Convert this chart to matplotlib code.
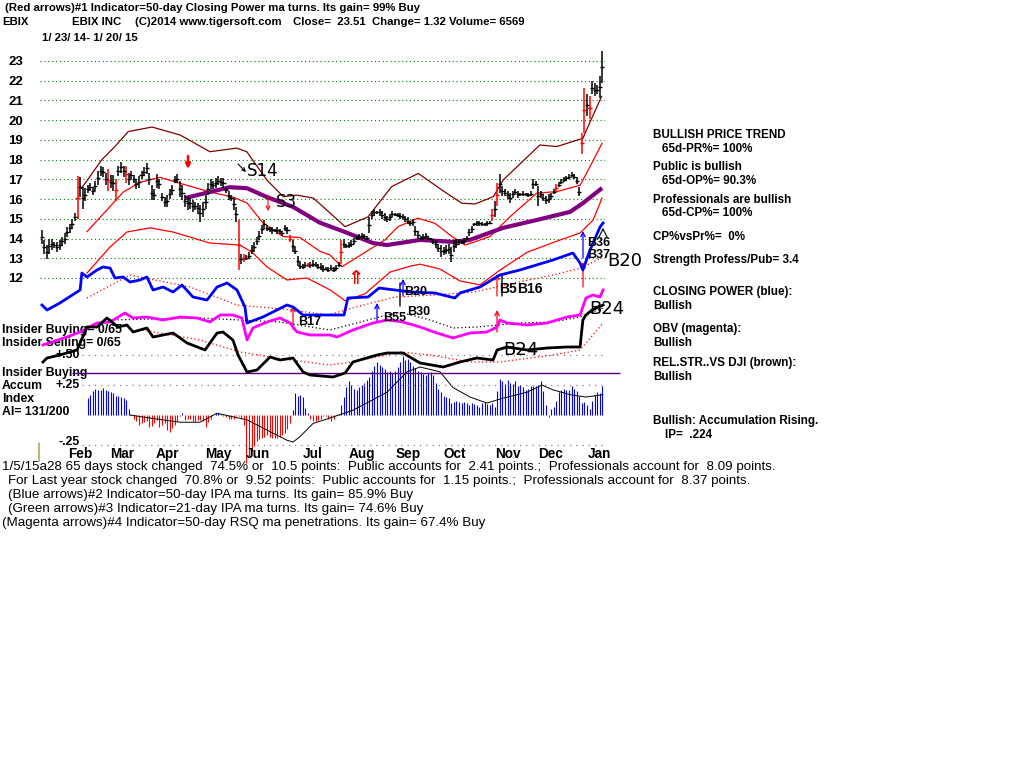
import matplotlib
matplotlib.use("Agg")
import matplotlib.pyplot as plt

W, H = 1024, 768
SANS = ["Liberation Sans", "DejaVu Sans"]
WIDE = ["DejaVu Sans"]

# ── daily bars, 1/23/14 - 1/20/15 ────────────────────────────────────
highs = [14.45, 13.9, 13.65, 14.0, 14.0, 13.8, 13.8, 13.9, 14.1, 14.3,
         14.6, 14.75, 15.0, 15.3, 17.15, 17.1, 16.6, 16.55, 16.7, 16.8,
         16.6, 16.9, 17.4, 17.7, 17.6, 17.3, 17.5, 17.2, 17.2, 17.0,
         17.7, 17.9, 17.7, 17.7, 17.3, 17.4, 17.2, 17.0, 17.15, 17.4,
         17.6, 17.85, 17.3, 16.7, 16.5, 17.25, 17.0, 16.3, 16.1, 16.2,
         16.5, 16.7, 17.15, 17.25,
         16.9, 16.7, 16.2, 16.1, 16.05, 15.95, 15.85, 15.8, 15.7, 15.85,
         16.2, 16.8, 17.0, 16.9, 17.05, 17.15, 17.05, 17.05, 16.6, 16.4,
         16.2, 16.05, 15.6, 14.95, 13.2, 13.2, 13.15, 13.3, 13.65, 13.8,
         14.1, 14.4, 14.7, 14.95, 14.7, 14.6, 14.6, 14.5, 14.6, 14.5,
         14.4, 14.7, 14.6, 14.2, 13.9, 13.55, 13.1, 12.8, 12.7, 12.8,
         12.75, 12.8, 12.9, 12.8, 12.7, 12.75,
         12.64, 12.55, 12.55, 12.64, 12.55, 12.64, 12.8, 13.9, 13.98, 13.7,
         13.8, 13.9, 14.05, 14.15, 14.25, 14.3, 14.25, 14.15, 15.07, 15.4,
         15.5, 15.4, 15.5, 15.4, 15.3, 15.15, 15.24, 15.4, 15.3, 15.3,
         15.3, 15.24, 15.15, 15.07, 14.9, 14.99, 14.65, 14.4, 14.15, 14.25,
         14.3, 14.15, 14.05, 13.98, 13.9, 13.7, 13.65, 13.55, 13.65, 13.7,
         13.55, 13.9, 13.98, 13.98, 13.9, 14.05, 14.15, 14.5,
         14.64, 14.8, 14.9, 14.9, 14.85, 14.8, 14.9, 14.9, 15.5, 15.9,
         16.8, 17.25, 16.67, 16.5, 16.4, 16.33, 16.4, 16.5, 16.4, 16.33,
         16.4, 16.33, 16.33, 16.4, 17.0, 16.9, 16.67, 16.4, 16.24, 16.16,
         16.24, 16.33, 16.5, 16.75, 16.84, 17.0, 17.1, 17.17, 17.25, 17.37,
         17.25, 17.1, 16.6, 19.37, 21.65, 21.3, 21.2, 21.98, 21.9, 21.8,
         22.24, 23.5]
lows = [13.73, 13.2, 12.97, 13.2, 13.4, 13.5, 13.3, 13.4, 13.6, 13.7,
        14.1, 14.3, 14.5, 14.9, 15.0, 16.1, 15.5, 15.9, 16.3, 16.4,
        16.2, 16.4, 16.7, 17.15, 17.1, 16.7, 16.4, 16.55, 16.4, 15.9,
        17.15, 17.3, 17.1, 16.8, 16.7, 17.0, 16.8, 16.5, 16.55, 17.0,
        17.15, 17.25, 16.7, 15.95, 15.95, 16.55, 16.5, 15.9, 15.6, 15.6,
        16.0, 16.2, 16.8, 16.8,
        16.1, 15.95, 15.6, 15.45, 15.5, 15.35, 15.45, 15.25, 14.85, 15.1,
        15.5, 16.2, 16.5, 16.5, 16.55, 16.7, 16.65, 16.55, 16.3, 15.95,
        15.9, 15.45, 14.85, 12.4, 12.7, 12.8, 12.9, 12.95, 13.2, 13.3,
        13.65, 13.9, 14.25, 14.5, 14.4, 14.35, 14.25, 14.35, 14.25, 14.25,
        14.15, 14.4, 14.25, 13.8, 13.3, 13.2, 12.6, 12.45, 12.45, 12.55,
        12.55, 12.5, 12.55, 12.55, 12.45, 12.4,
        12.3, 12.4, 12.3, 12.4, 12.3, 12.4, 12.55, 12.7, 13.5, 13.5,
        13.5, 13.55, 13.7, 13.9, 13.9, 13.98, 13.98, 13.9, 14.3, 14.99,
        15.15, 15.24, 15.15, 14.99, 14.9, 14.82, 14.9, 15.07, 15.15, 15.07,
        14.99, 14.99, 14.82, 14.73, 14.65, 14.65, 14.15, 13.98, 13.9, 13.9,
        13.98, 13.9, 13.9, 13.7, 13.5, 13.3, 13.05, 13.15, 13.2, 13.2,
        12.8, 13.3, 13.5, 13.65, 13.7, 13.7, 13.9, 14.15,
        14.3, 14.64, 14.64, 14.64, 14.64, 14.64, 14.64, 14.72, 14.9, 15.1,
        15.65, 16.3, 16.16, 16.16, 16.0, 15.8, 16.07, 16.24, 16.07, 16.16,
        16.16, 16.16, 16.12, 16.16, 16.5, 16.67, 15.65, 16.07, 15.9, 15.74,
        15.8, 15.99, 16.24, 16.4, 16.6, 16.75, 16.84, 16.92, 17.0, 17.1,
        17.0, 16.75, 16.16, 18.27, 19.37, 20.2, 20.05, 21.3, 21.2, 21.3,
        21.14, 21.9]
red_bars = [14, 26, 29, 33, 77, 79, 97, 104, 117, 176, 178, 201, 211, 212, 214]

# ── price-panel bands, turning points (bar, price) ───────────────────
band2_x = [15.6, 23.4, 28.6, 33.8, 43.1, 54.0, 65.7, 76.2, 80.1, 87.9, 94.4, 99.6,
           106.1, 112.6, 118.5, 127.5, 136.7, 147.1, 156.3, 164.1, 169.3, 176.4,
           180.3, 194.6, 201.2, 211.4, 214.2, 218.7]
band2_y = [16.55, 17.98, 18.66, 19.42, 19.65, 19.25, 18.4, 18.58, 18.4, 16.97, 16.12,
           16.2, 16.05, 15.3, 14.6, 15.1, 16.63, 17.3, 16.46, 15.79, 15.75, 16.12,
           16.97, 18.74, 18.66, 19.08, 19.9, 21.2]
upper_x = [17.7, 25.5, 31.8, 38.4, 46.2, 54.0, 65.7, 74.7, 80.2, 86.4, 94.3, 100.9,
           108.7, 112.6, 117.3, 123.6, 134.1, 139.2, 147.0, 153.6, 160.3, 165.4,
           169.3, 175.1, 182.9, 193.4, 201.3, 210.3, 214.2, 218.9]
upper_y = [14.35, 15.45, 16.35, 16.85, 17.1, 16.8, 16.36, 16.1, 15.8, 14.8, 14.1,
           14.05, 13.35, 13.17, 12.57, 13.08, 13.93, 14.6, 15.03, 14.77, 14.1, 13.67,
           13.84, 14.1, 15.1, 16.3, 16.38, 16.7, 17.65, 18.83]
lower_x = [17.7, 26.7, 33.3, 42.3, 51.3, 65.7, 77.5, 82.5, 88.0, 95.8, 103.6, 112.6,
           118.5, 126.3, 136.1, 143.9, 147.8, 155.6, 163.4, 171.2, 179.0, 189.6,
           199.8, 210.3, 215.4, 218.9]
lower_y = [12.25, 13.57, 14.33, 14.54, 14.33, 13.77, 13.67, 13.27, 12.56, 11.9, 12.0,
           11.4, 10.85, 11.2, 12.3, 12.6, 12.7, 12.45, 11.85, 11.65, 12.4, 13.3, 13.8,
           14.28, 14.94, 16.05]
ma50_x = [56.0, 65.7, 73.5, 80.2, 88.0, 98.2, 108.7, 118.5, 129.4, 134.9, 147.8,
          160.6, 167.3, 180.2, 193.4, 206.4, 211.5, 218.9]
ma50_y = [16.05, 16.36, 16.6, 16.55, 16.1, 15.6, 14.8, 14.33, 13.77, 13.67, 13.93,
          13.83, 13.93, 14.54, 14.94, 15.35, 15.8, 16.56]

# ── Closing Power (blue) and its ma, arbitrary units ─────────────────
cp_x = [0.1, 2.1, 7.1, 15.0, 15.7, 17.7, 21.6, 23.9, 26.7, 28.6, 31.8, 34.5, 38.4,
        41.1, 43.5, 47.4, 51.3, 54.8, 59.1, 64.6, 68.5, 72.4, 76.3, 79.4, 80.2, 86.4,
        95.8, 98.2, 102.1, 112.6, 118.1, 119.6, 127.5, 131.8, 138.0, 144.3, 153.6,
        161.4, 163.4, 171.2, 179.0, 186.8, 199.7, 207.5, 210.3, 211.4, 214.2, 218.1,
        219.3]
cp_y = [25, 20, 27, 40, 57, 53, 60, 63, 62, 52, 53, 48, 50, 53, 40, 43, 38, 45, 33,
        30, 43, 47, 40, 23, 7, 13, 25, 23, 15, 15, 15, 32, 33, 42, 40, 38, 37, 32, 37,
        43, 55, 60, 70, 77, 67, 60, 80, 103, 107]
cp_ma_x = [17.7, 34.5, 57.9, 76.3, 97.8, 111.8, 122.8, 138.0, 153.6, 168.9, 184.5,
           199.7, 210.7, 218.5]
cp_ma_y = [32, 55, 43, 25, 20, 15, 23, 33, 35, 38, 47, 55, 62, 72]

# ── OBV (magenta) and its ma ─────────────────────────────────────────
obv_x = [0.5, 9.9, 15.0, 21.6, 26.7, 32.5, 35.7, 41.1, 47.4, 54.0, 60.7, 65.7, 69.7,
         74.7, 78.2, 80.2, 82.5, 88.0, 93.1, 97.0, 99.7, 104.8, 112.6, 115.4, 121.6,
         129.4, 134.9, 141.1, 147.8, 154.4, 160.7, 167.3, 173.9, 177.9, 179.0, 181.8,
         189.6, 197.4, 205.2, 210.3, 212.6, 215.3, 218.1, 219.3]
obv_y = [5, 13, 18, 27, 28, 37, 32, 33, 30, 33, 32, 28, 35, 35, 32, 10, 22, 28, 32,
         27, 18, 15, 15, 13, 20, 27, 30, 28, 23, 17, 12, 17, 18, 23, 30, 27, 25, 27,
         33, 35, 52, 55, 53, 60]
obv_ma_x = [26.7, 61.8, 93.1, 112.6, 134.9, 141.1, 151.7, 160.7, 170.0, 186.8, 199.7,
            210.3, 219.3]
obv_ma_y = [30, 32, 28, 20, 35, 37, 30, 22, 23, 27, 28, 33, 42]

# ── relative strength vs DJI (black) and its ma ──────────────────────
rs_x = [0.5, 2.1, 7.1, 13.8, 17.7, 21.6, 25.5, 29.8, 33.3, 35.7, 41.1, 43.5, 51.3,
        56.8, 63.8, 68.5, 70.8, 74.7, 76.7, 80.2, 84.1, 89.2, 93.1, 98.2, 102.1,
        104.8, 113.8, 118.5, 121.6, 131.0, 134.9, 141.1, 147.8, 156.8, 163.4, 170.0,
        176.3, 177.9, 181.8, 189.6, 197.4, 205.2, 210.3, 211.4, 212.6, 215.0, 219.3]
rs_y = [18, 22, 25, 30, 53, 53, 62, 53, 55, 48, 52, 43, 47, 37, 30, 47, 48, 40, 25,
        8, 10, 23, 20, 22, 8, 5, 3, 7, 18, 25, 27, 27, 17, 13, 18, 22, 20, 30, 33, 30,
        32, 33, 33, 60, 65, 70, 75]
rs_ma_x = [39.4, 61.8, 77.5, 97.0, 112.6, 121.6, 140.0, 151.7, 167.3, 179.0, 199.7,
           210.3, 219.3]
rs_ma_y = [50, 40, 28, 20, 15, 18, 28, 25, 18, 18, 25, 30, 57]

# ── Accumulation Index, one value per bar from bar 18 on ─────────────
ai_start = 18
ai = [0.14, 0.17, 0.20, 0.22, 0.21, 0.21, 0.225, 0.21, 0.20, 0.19,
      0.18, 0.16, 0.16, 0.15, 0.14, 0.125, 0.05, 0.0, -0.03, -0.05,
      -0.08, -0.07, -0.06, -0.05, -0.10, -0.09, -0.07, -0.04, -0.10, -0.08,
      -0.07, -0.125, -0.14, -0.11, -0.08, -0.05, -0.01, 0.02, -0.04, -0.03,
      -0.03, -0.05, -0.05, -0.04, -0.04, -0.05, -0.10, -0.06, -0.03, 0.0,
      0.02, 0.02, 0.01, -0.01, -0.02, -0.03, -0.03, -0.03, -0.01, -0.01,
      -0.03, -0.08, -0.40, -0.34, -0.30, -0.26, -0.22, -0.20, -0.19, -0.18,
      -0.17, -0.18, -0.19, -0.19, -0.19, -0.18, -0.17, -0.15, -0.12, -0.07,
      0.04, 0.18, 0.16, 0.17, 0.15, 0.06, 0.02, -0.03, -0.05, -0.05,
      -0.04, -0.03, -0.01, -0.01, -0.03, -0.05, -0.03, 0.0, 0.01, 0.08,
      0.15, 0.23, 0.28, 0.25, 0.22, 0.21, 0.23, 0.25, 0.27, 0.29,
      0.32, 0.37, 0.41, 0.44, 0.42, 0.40, 0.38, 0.36, 0.37, 0.35,
      0.37, 0.40, 0.44, 0.49, 0.46, 0.47, 0.44, 0.41, 0.39, 0.37,
      0.36, 0.34, 0.33, 0.35, 0.36, 0.33, 0.27, 0.22, 0.19, 0.16,
      0.15, 0.14, 0.10, 0.11, 0.12, 0.11, 0.10, 0.11, 0.10, 0.08,
      0.10, 0.09, 0.08, 0.07, 0.10, 0.11, 0.09, 0.08, 0.10, 0.07,
      0.20, 0.30, 0.28, 0.26, 0.29, 0.27, 0.26, 0.28, 0.24, 0.25,
      0.23, 0.21, 0.22, 0.24, 0.24, 0.24, 0.25, 0.28, 0.20, 0.08,
      -0.02, 0.05, 0.07, 0.12, 0.19, 0.21, 0.22, 0.21, 0.21, 0.24,
      0.22, 0.20, 0.16, 0.10, 0.11, 0.08, 0.05, 0.12, 0.17, 0.19,
      0.18, 0.24]
ai_ma_x = [34.5, 42.3, 54.0, 61.8, 68.5, 74.7, 80.2, 88.0, 95.8, 98.2, 100.9, 106.0,
           112.6, 121.6, 134.9, 142.7, 147.8, 155.6, 160.6, 167.3, 173.9, 180.2,
           189.6, 195.4, 199.7, 206.4, 212.6, 219.3]
ai_ma_y = [0.0, -0.025, -0.06, -0.06, 0.015, -0.015, -0.04, -0.125, -0.21, -0.225,
           -0.18, -0.07, -0.025, 0.04, 0.19, 0.36, 0.4, 0.36, 0.23, 0.15, 0.1, 0.14,
           0.19, 0.25, 0.21, 0.17, 0.15, 0.17]
ai_levels = [0.5, 0.25, -0.25]
insider_level = 0.35

months = ["Feb", "Mar", "Apr", "May", "Jun", "Jul", "Aug", "Sep", "Oct", "Nov",
          "Dec", "Jan"]
month_bar = [14.9, 31.4, 49.3, 68.9, 84.5, 106.0, 125.1, 143.1, 161.4, 182.1,
             198.6, 217.7]
price_ticks = list(range(12, 24))

# ── figure and stacked layers ────────────────────────────────────────
fig = plt.figure(figsize=(W / 100, H / 100), dpi=100)
fig.patch.set_facecolor("white")
RECT = [40 / W, 1 - 470 / H, 565 / W, 430 / H]
XLIM = (-0.66, 220.04)


def layer(ylim):
    a = fig.add_axes(RECT, facecolor="none")
    a.set_xlim(*XLIM)
    a.set_ylim(*ylim)
    a.axis("off")
    return a


def put(x, y, s, size=8.2, weight="bold", color="black", ha="left",
        family=SANS, z=3):
    fig.text(x / W, 1 - y / H, s, fontsize=size, fontweight=weight,
             color=color, ha=ha, va="center", family=family, zorder=z)


def arrow(x, y_from, y_to, color, lw=1.0, scale=8, style="->"):
    ax.annotate("", xy=(x, H - y_to), xycoords="figure pixels",
                xytext=(x, H - y_from), textcoords="figure pixels",
                arrowprops=dict(arrowstyle=style, color=color, lw=lw,
                                mutation_scale=scale, shrinkA=0, shrinkB=0),
                annotation_clip=False)


def tick(x0, y0, x1, y1, color="black", lw=1.0, style="-"):
    ax.annotate("", xy=(x1, H - y1), xycoords="figure pixels",
                xytext=(x0, H - y0), textcoords="figure pixels",
                arrowprops=dict(arrowstyle=style, color=color, lw=lw,
                                mutation_scale=6, shrinkA=0, shrinkB=0),
                annotation_clip=False)


# accumulation index panel (drawn first, at the back)
ax_ai = layer((-0.458, 3.125))
for i, v in enumerate(ai):
    ax_ai.vlines(ai_start + i, 0, v, color="#0000ff" if v >= 0 else "#ff0000",
                 lw=0.8)
ax_ai.plot(ai_ma_x, ai_ma_y, color="black", lw=0.7)
for lv in ai_levels:
    ax_ai.hlines(lv, 15.7, 219.3, color="#808080", lw=0.9,
                 linestyles=(0, (1, 4)))
ax_ai.hlines(insider_level, 11.8, 225.9, color="#600080", lw=1.0, clip_on=False)

# price panel
ax = fig.add_axes(RECT, facecolor="none")
ax.set_xlim(*XLIM)
ax.set_ylim(2.27, 24.06)
for s in ax.spines.values():
    s.set_visible(False)
ax.set_xticks([])
ax.set_yticks(price_ticks)
ax.set_yticklabels([str(t) for t in price_ticks], fontsize=9.5,
                   fontweight="bold", family=SANS)
for lbl in ax.get_yticklabels():
    lbl.set_horizontalalignment("left")
ax.tick_params(axis="y", length=0, pad=23)
ax.yaxis.grid(True, color="#008000", lw=0.8, linestyle=(0, (1, 2.5)))
ax.set_axisbelow(True)

ax.plot(band2_x, band2_y, color="#800000", lw=0.9)
ax.plot(upper_x, upper_y, color="#ff0000", lw=0.9)
ax.plot(lower_x, lower_y, color="#ff0000", lw=0.9)
ax.plot(ma50_x, ma50_y, color="#800080", lw=3.0, solid_capstyle="butt")

xs = list(range(len(highs)))
cols = ["#ff0000" if i in red_bars else "black" for i in xs]
mids = [(h + l) / 2 for h, l in zip(highs, lows)]
ax.vlines(xs, lows, highs, colors=cols, lw=1.1)
ax.hlines(mids, [x - 0.8 for x in xs], [x + 0.8 for x in xs], colors=cols,
          lw=1.0)

for m, b in zip(months, month_bar):
    ax.text(b, 0.037, m, transform=ax.get_xaxis_transform(), ha="center",
            va="center", fontsize=9.8, fontweight="bold", family=SANS)

# indicator lines
ax_cp = layer((-140, 290))
ax_cp.plot(cp_ma_x, cp_ma_y, color="#ff0000", lw=0.9, linestyle=(0, (1, 2)))
ax_cp.plot(cp_x, cp_y, color="#0000ff", lw=2.0)

ax_obv = layer((-120, 310))
ax_obv.plot(obv_ma_x, obv_ma_y, color="black", lw=0.9, linestyle=(0, (1, 2)))
ax_obv.plot(obv_x, obv_y, color="#ff00ff", lw=2.0)

ax_rs = layer((-90, 340))
ax_rs.plot(rs_ma_x, rs_ma_y, color="#ff0000", lw=0.9, linestyle=(0, (1, 2)))
ax_rs.plot(rs_x, rs_y, color="black", lw=2.0)

# ── signal arrows and labels ─────────────────────────────────────────
arrow(188, 156, 169, "#ff0000", lw=1.8, scale=7, style="-|>")
tick(238, 164, 246, 172, lw=0.8, style="->")
put(247, 171, "S14", size=12, weight="normal", family=WIDE)
arrow(268, 195, 211, "#ff0000", lw=0.8, scale=7)
put(276, 202, "S3", size=12, weight="normal", family=WIDE)
put(355, 279, "\u21d1", size=14, weight="bold", color="#ff0000", ha="center",
    family=WIDE)
arrow(293, 329, 306, "#ff0000", lw=0.9)
put(298, 322, "B17", size=9)
arrow(377, 322, 303, "#0000ff", lw=0.9)
put(383, 318, "B55", size=9)
tick(400, 283, 400, 306)
put(407, 312, "B30", size=9)
arrow(403, 296, 279, "#0000ff", lw=0.9)
put(404, 292, "B20", size=9)
arrow(497, 296, 274, "#ff0000", lw=0.9)
tick(502, 274, 502, 296)
put(499, 289, "B5", size=10)
put(517, 289, "B16", size=10)
arrow(497, 332, 310, "#ff0000", lw=0.9)
put(503, 350, "B24", size=13, weight="normal", family=WIDE)
arrow(583, 258, 231, "#0000ff", lw=0.9)
arrow(583, 287, 262, "#ff0000", lw=0.9)
put(587, 243, "B36", size=9)
put(587, 255, "B37", size=9)
put(607, 261, "B20", size=13, weight="normal", family=WIDE)
put(589, 309, "B24", size=13, weight="normal", family=WIDE)
tick(599, 237, 603, 229, lw=0.8)
tick(603, 229, 607, 237, lw=0.8)
tick(39, 443, 39, 461, color="#808000", lw=0.8)

# ── header, side panel and footer text ───────────────────────────────
put(5, 8, "(Red arrows)#1 Indicator=50-day Closing Power ma turns. Its gain= 99% Buy")
put(2, 22, "EBIX")
put(72, 22, "EBIX INC")
put(135, 22, "(C)2014 www.tigersoft.com")
put(293, 22, "Close=  23.51  Change= 1.32 Volume= 6569")
put(42, 38, "1/ 23/ 14- 1/ 20/ 15")

put(2, 330, "Insider Buying= 0/65", size=8.8, z=-1)
put(2, 343, "Insider Selling= 0/65", size=8.8, z=-1)
put(80, 355, "+.50", size=8.8, ha="right", z=-1)
put(2, 373, "Insider Buying", size=8.8, z=-1)
put(2, 386, "Accum", size=8.8)
put(80, 385, "+.25", size=8.8, ha="right")
put(2, 399, "Index", size=8.8)
put(2, 412, "AI= 131/200", size=8.8)
put(80, 442, "-.25", size=8.8, ha="right")

side = [(653, 135, "BULLISH PRICE TREND"), (662, 149, "65d-PR%= 100%"),
        (653, 167, "Public is bullish"), (662, 181, "65d-OP%= 90.3%"),
        (653, 200, "Professionals are bullish"), (662, 213, "65d-CP%= 100%"),
        (653, 237, "CP%vsPr%=  0%"), (653, 260, "Strength Profess/Pub= 3.4"),
        (653, 292, "CLOSING POWER (blue):"), (653, 306, "Bullish"),
        (653, 329, "OBV (magenta):"), (653, 343, "Bullish"),
        (653, 363, "REL.STR..VS DJI (brown):"), (653, 377, "Bullish"),
        (653, 421, "Bullish: Accumulation Rising."), (665, 435, "IP=  .224")]
for x, y, s in side:
    put(x, y, s, size=8.4)

footer = [(2, 467, "1/5/15a28 65 days stock changed  74.5% or  10.5 points:  Public accounts for  2.41 points.;  Professionals account for  8.09 points."),
          (8, 481, "For Last year stock changed  70.8% or  9.52 points:  Public accounts for  1.15 points.;  Professionals account for  8.37 points."),
          (8, 495, "(Blue arrows)#2 Indicator=50-day IPA ma turns. Its gain= 85.9% Buy"),
          (8, 509, "(Green arrows)#3 Indicator=21-day IPA ma turns. Its gain= 74.6% Buy"),
          (2, 523, "(Magenta arrows)#4 Indicator=50-day RSQ ma penetrations. Its gain= 67.4% Buy")]
for x, y, s in footer:
    put(x, y, s, size=9.6, weight="normal")

fig.savefig("out.png", dpi=100, facecolor="white")
